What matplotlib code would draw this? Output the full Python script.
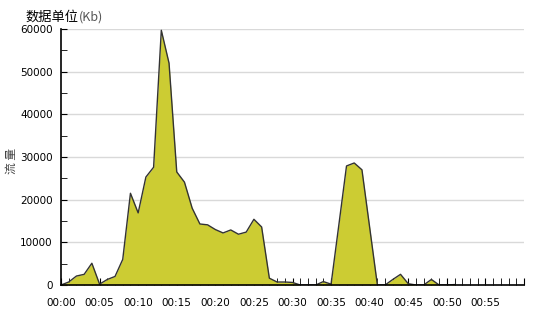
import numpy as np
import matplotlib.pyplot as plt
from matplotlib.ticker import MultipleLocator, FuncFormatter

minutes = list(range(0, 52))
traffic = [0, 700, 2100, 2500, 5100, 200, 1300, 2000, 6000, 21500,
           16900, 25300, 27600, 59700, 52000, 26500, 24100, 18000, 14300, 14100,
           13000, 12200, 12900, 11900, 12400, 15400, 13600, 1600, 700, 700,
           600, 0, 0, 0, 800, 200, 14000, 27900, 28600, 27000,
           13500, 0, 0, 1300, 2500, 300, 0, 0, 1300, 0,
           0, 100]
y_ticks = [0, 10000, 20000, 30000, 40000, 50000, 60000]

fig = plt.figure(figsize=(5.57, 3.11), dpi=100)
ax = fig.add_axes([61 / 557, 1 - 285 / 311, 463 / 557, 256 / 311])

ax.fill_between(minutes, traffic, 0, color='#cccc33', linewidth=0)
ax.plot(minutes, traffic, color='#333333', linewidth=1)

ax.set_xlim(0, 60)
ax.set_ylim(0, 60000)
ax.set_yticks(y_ticks)
ax.yaxis.set_minor_locator(MultipleLocator(5000))
ax.xaxis.set_major_locator(MultipleLocator(5))
ax.xaxis.set_minor_locator(MultipleLocator(1))
ax.xaxis.set_major_formatter(FuncFormatter(lambda v, p: '00:%02d' % v if v < 60 else ''))

ax.grid(axis='y', color='#d9d9d9', linewidth=1)
ax.set_axisbelow(True)
for s in ['top', 'right']:
    ax.spines[s].set_visible(False)
ax.spines['left'].set_linewidth(1.2)
ax.spines['bottom'].set_linewidth(1.2)

ax.tick_params(axis='y', which='major', direction='in', length=4, labelsize=7.5, pad=6)
ax.tick_params(axis='y', which='minor', direction='in', length=4)
ax.tick_params(axis='x', which='major', direction='in', length=5, labelsize=7.5, pad=9)
ax.tick_params(axis='x', which='minor', direction='in', length=5)

cjk = ['Noto Sans CJK SC', 'DejaVu Sans']
fig.text(25 / 557, 1 - 17 / 311, '数据单位', family=cjk, fontsize=9.5, va='center', ha='left')
fig.text(79 / 557, 1 - 17 / 311, '(Kb)', family=cjk, fontsize=9, va='center', ha='left', color='#555555')
fig.text(11 / 557, 1 - 161 / 311, '流 量', family=cjk, fontsize=8.5, rotation=90,
         va='center', ha='center', color='#444444')

fig.savefig('out.png', dpi=100)
